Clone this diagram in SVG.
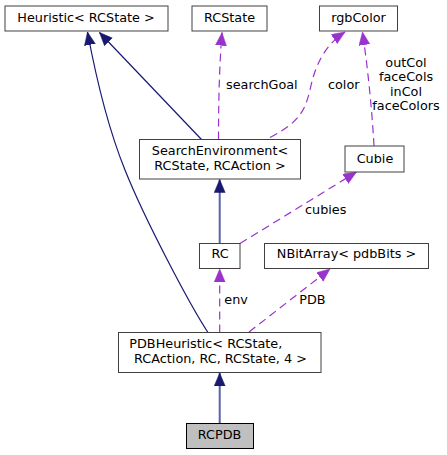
<svg xmlns="http://www.w3.org/2000/svg" width="447" height="455" viewBox="0 0 447 455">
<style>
  .box { fill: #ffffff; stroke: #404040; stroke-width: 1; }
  .cur { fill: #bfbfbf; stroke: #000000; stroke-width: 1; }
  text { font-family: "DejaVu Sans", "Liberation Sans", sans-serif; font-size: 12.8px; fill: #000000; }
  .mid { text-anchor: middle; }
  .inh { fill: none; stroke: #191970; stroke-width: 1.2; }
  .inh2 { fill: none; stroke: #5a62a8; stroke-width: 2; }
  .use { fill: none; stroke: #9a32cd; stroke-width: 1.2; stroke-dasharray: 8,5; }
</style>
<defs>
  <marker id="aInh" markerUnits="userSpaceOnUse" markerWidth="14" markerHeight="12" refX="13" refY="5.5" orient="auto">
    <path d="M0,0 L13,5.5 L0,11 z" fill="#191970" stroke="#191970" stroke-width="0.5"/>
  </marker>
  <marker id="aUse" markerUnits="userSpaceOnUse" markerWidth="14" markerHeight="12" refX="13" refY="5.5" orient="auto">
    <path d="M0,0 L13,5.5 L0,11 z" fill="#9a32cd" stroke="#9a32cd" stroke-width="0.5"/>
  </marker>
</defs>
<g id="edges">
  <path class="inh" d="M208,332.5 C190,305 145,220 125,170 C108,128 95,72 87.5,32" marker-end="url(#aInh)"/>
  <path class="inh" d="M201.5,139.5 L99.5,32.5" marker-end="url(#aInh)"/>
  <path class="use" d="M218.5,139.5 C218.5,110 219,70 222,32.5" marker-end="url(#aUse)"/>
  <path class="use" d="M270,137.5 C300,122 305,110 310,90 C315,65 325,45 345,32" marker-end="url(#aUse)"/>
  <path class="use" d="M374,146 C372,110 368,70 362.5,32" marker-end="url(#aUse)"/>
  <path class="inh2" d="M219.7,243.5 L219.7,179.5" marker-end="url(#aInh)"/>
  <path class="use" d="M240,243.5 L356.5,172" marker-end="url(#aUse)"/>
  <path class="use" d="M219.7,332.5 L219.7,269" marker-end="url(#aUse)"/>
  <path class="use" d="M249,332 L330,269" marker-end="url(#aUse)"/>
  <path class="inh2" d="M219.7,423 L219.7,373" marker-end="url(#aInh)"/>
  <text x="226" y="89">searchGoal</text>
  <text x="328" y="89">color</text>
  <text class="mid" x="406" y="66.5">outCol</text>
  <text class="mid" x="406" y="81">faceCols</text>
  <text class="mid" x="406" y="95.5">inCol</text>
  <text class="mid" x="406" y="110">faceColors</text>
  <text x="305" y="214.3">cubies</text>
  <text x="224.3" y="304">env</text>
  <text x="299.3" y="304">PDB</text>
</g>
<g id="node-heuristic">
  <rect class="box" x="5" y="6" width="163" height="25"/>
  <text class="mid" x="86" y="22">Heuristic&lt; RCState &gt;</text>
</g>
<g id="node-rcstate">
  <rect class="box" x="192" y="6" width="75" height="25"/>
  <text class="mid" x="229.5" y="22">RCState</text>
</g>
<g id="node-rgbcolor">
  <rect class="box" x="319.5" y="6" width="78" height="25"/>
  <text class="mid" x="358.5" y="22">rgbColor</text>
</g>
<g id="node-searchenv">
  <rect class="box" x="139.5" y="139.5" width="161" height="39.5"/>
  <text class="mid" x="220" y="155">SearchEnvironment&lt;</text>
  <text class="mid" x="220" y="169.5"> RCState, RCAction &gt;</text>
</g>
<g id="node-cubie">
  <rect class="box" x="345" y="146" width="59" height="26"/>
  <text class="mid" x="375" y="163">Cubie</text>
</g>
<g id="node-rc">
  <rect class="box" x="199.5" y="243.5" width="40.5" height="25"/>
  <text class="mid" x="220" y="258.3">RC</text>
</g>
<g id="node-nbitarray">
  <rect class="box" x="264.5" y="243.5" width="164" height="25"/>
  <text class="mid" x="346.5" y="258.3">NBitArray&lt; pdbBits &gt;</text>
</g>
<g id="node-pdbheuristic">
  <rect class="box" x="118.5" y="332.5" width="202.5" height="40"/>
  <text x="129.3" y="348.3">PDBHeuristic&lt; RCState,</text>
  <text class="mid" x="220.5" y="362.7"> RCAction, RC, RCState, 4 &gt;</text>
</g>
<g id="node-rcpdb">
  <rect class="cur" x="186.5" y="423.5" width="67" height="25"/>
  <text class="mid" x="219.5" y="439.3">RCPDB</text>
</g>
</svg>
